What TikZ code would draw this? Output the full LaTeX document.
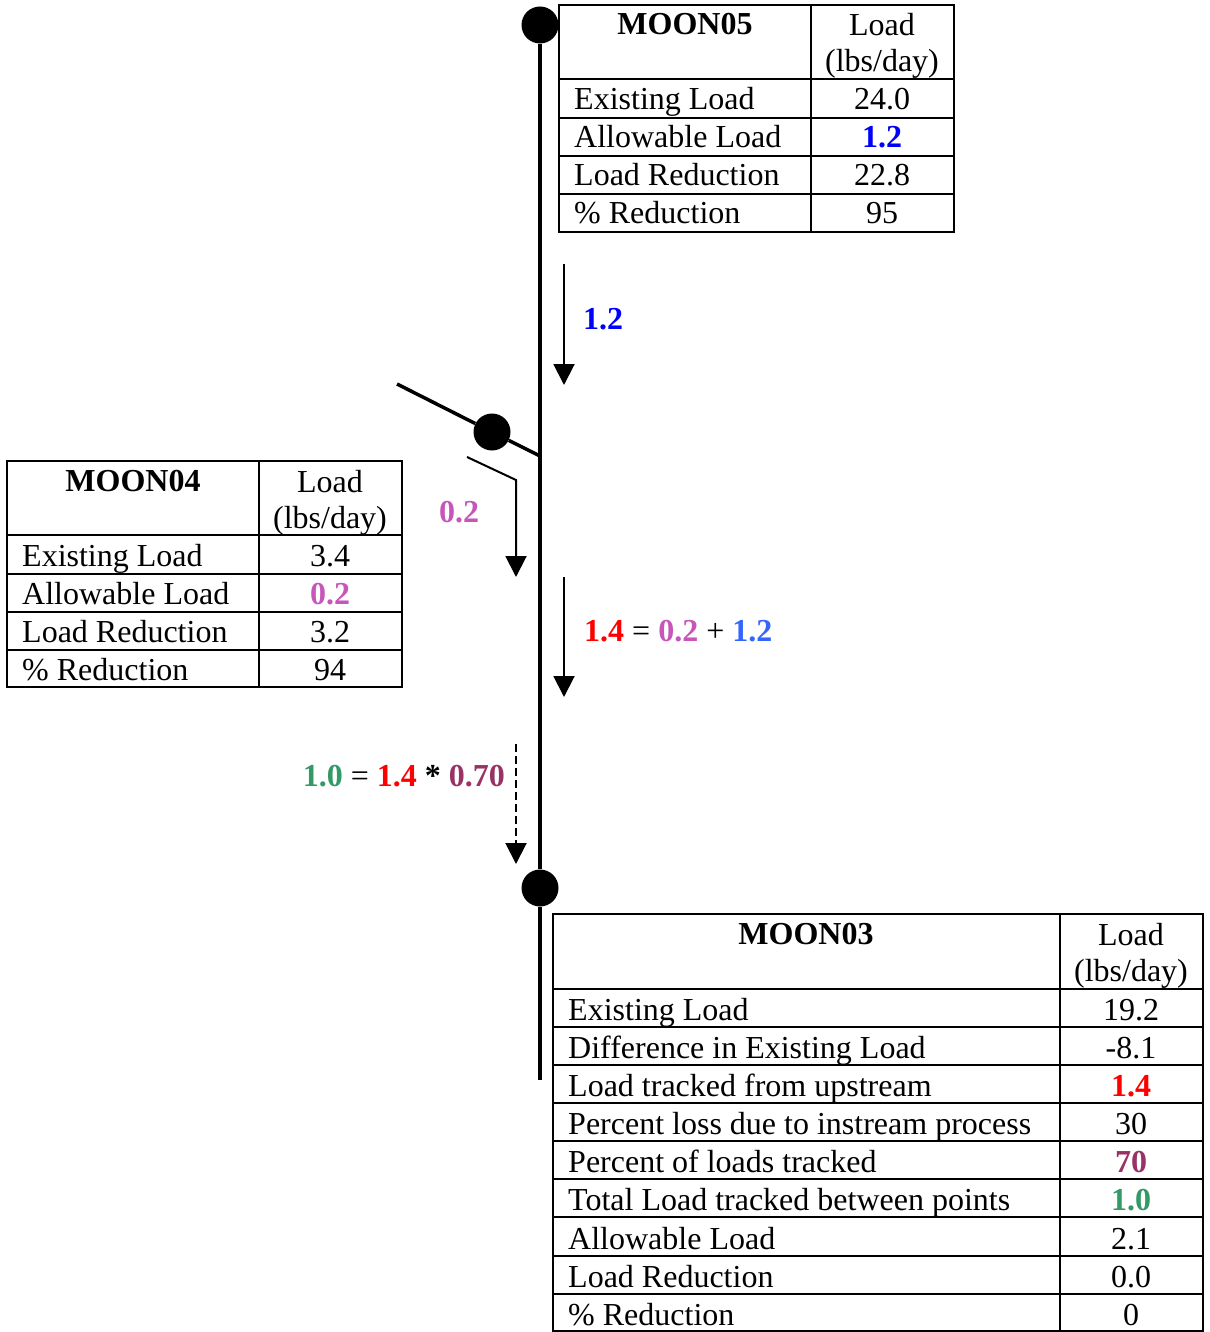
\documentclass[tikz,border=0pt]{standalone}
\usepackage{fontspec}
\setmainfont{Liberation Serif}
\usetikzlibrary{arrows.meta}
\definecolor{cblue}{RGB}{0,0,255}
\definecolor{clblue}{RGB}{51,102,255}
\definecolor{cmag}{RGB}{198,86,186}
\definecolor{cplum}{RGB}{153,51,102}
\definecolor{cgreen}{RGB}{51,153,102}
\definecolor{cred}{RGB}{255,0,0}
\tikzset{
  tbl/.style={line width=2pt},
  lbl/.style={anchor=base west, inner sep=0pt, font=\fontsize{32}{36}\selectfont},
  val/.style={anchor=base, inner sep=0pt, font=\fontsize{32}{36}\selectfont},
  dot/.style={circle, fill=black, minimum size=37pt, inner sep=0pt},
  flow/.style={line width=2pt, -{Triangle[width=21pt,length=21pt]}},
  stream/.style={line width=4.5pt},
  branch/.style={line width=3.5pt},
}
\newcommand{\cb}[2]{\textcolor{#1}{\textbf{#2}}}
\begin{document}
\begin{tikzpicture}[x=1pt,y=-1pt]
\useasboundingbox (0,0) rectangle (1209,1332);

% stream nodes
\node[dot] (n5) at (540,25) {};
\node[dot] (n4) at (492,432) {};
\node[dot] (n3) at (540,888) {};
\coordinate (sEnd) at (540,1080);
\coordinate (bStart) at (397,384);
\coordinate (bEnd) at (540,456);

\draw[stream] (n5) -- (n3) -- (sEnd);
\draw[branch] (bStart) -- (n4) -- (bEnd);

% flow arrows
\coordinate (a1s) at (564,264);
\coordinate (a1e) at (564,385);
\draw[flow] (a1s) -- (a1e);
\node[val] (l1) at (603,329) {\cb{cblue}{1.2}};

\coordinate (a2s) at (467,457);
\coordinate (a2m) at (516,480);
\coordinate (a2e) at (516,577);
\draw[flow] (a2s) -- (a2m) -- (a2e);
\node[val] (l2) at (459,522) {\cb{cmag}{0.2}};

\coordinate (a3s) at (564,577);
\coordinate (a3e) at (564,697);
\draw[flow] (a3s) -- (a3e);
\node[lbl] (l3) at (584,641) {\cb{cred}{1.4} = \cb{cmag}{0.2} + \cb{clblue}{1.2}};

\coordinate (a4s) at (516,744);
\coordinate (a4e) at (516,864);
\draw[flow, dash pattern=on 8pt off 4pt] (a4s) -- (a4e);
\node[lbl, anchor=base east] (l4) at (505,786) {\cb{cgreen}{1.0} = \cb{cred}{1.4} \textbf{*} \cb{cplum}{0.70}};

% table MOON05
\draw[tbl] (559,5) rectangle (954,232);
\draw[tbl] (811,5) -- (811,232);
\foreach \y in {79,118,156,194} \draw[tbl] (559,\y) -- (954,\y);
\node[val] (t5h) at (685,35) {\textbf{MOON05}};
\node[val] (t5u1) at (882,36) {Load};
\node[val] (t5u2) at (882,72) {(lbs/day)};
\foreach \i/\y/\a/\b in {1/110/Existing Load/24.0, 2/148/Allowable Load/{\cb{cblue}{1.2}}, 3/186/Load Reduction/22.8, 4/224/\% Reduction/95}{
  \node[lbl] (t5a\i) at (574,\y) {\a};
  \node[val] (t5b\i) at (882,\y) {\b};
}

% table MOON04
\draw[tbl] (7,461) rectangle (402,687);
\draw[tbl] (259,461) -- (259,687);
\foreach \y in {535,574,612,650} \draw[tbl] (7,\y) -- (402,\y);
\node[val] (t4h) at (133,491) {\textbf{MOON04}};
\node[val] (t4u1) at (330,492) {Load};
\node[val] (t4u2) at (330,528) {(lbs/day)};
\foreach \i/\y/\a/\b in {1/566/Existing Load/3.4, 2/604/Allowable Load/{\cb{cmag}{0.2}}, 3/642/Load Reduction/3.2, 4/680/\% Reduction/94}{
  \node[lbl] (t4a\i) at (22,\y) {\a};
  \node[val] (t4b\i) at (330,\y) {\b};
}

% table MOON03
\draw[tbl] (553,914) rectangle (1203,1331);
\draw[tbl] (1060,914) -- (1060,1331);
\foreach \y in {989,1027,1065,1103,1141,1179,1217,1256,1294} \draw[tbl] (553,\y) -- (1203,\y);
\node[val] (t3h) at (806,944) {\textbf{MOON03}};
\node[val] (t3u1) at (1131,945) {Load};
\node[val] (t3u2) at (1131,981) {(lbs/day)};
\foreach \i/\y/\a/\b in {1/1020/Existing Load/19.2, 2/1058/Difference in Existing Load/-8.1, 3/1096/Load tracked from upstream/{\cb{cred}{1.4}}, 4/1134/Percent loss due to instream process/30, 5/1172/Percent of loads tracked/{\cb{cplum}{70}}, 6/1210/Total Load tracked between points/{\cb{cgreen}{1.0}}, 7/1249/Allowable Load/2.1, 8/1287/Load Reduction/0.0, 9/1325/\% Reduction/0}{
  \node[lbl] (t3a\i) at (568,\y) {\a};
  \node[val] (t3b\i) at (1131,\y) {\b};
}
\end{tikzpicture}
\end{document}
